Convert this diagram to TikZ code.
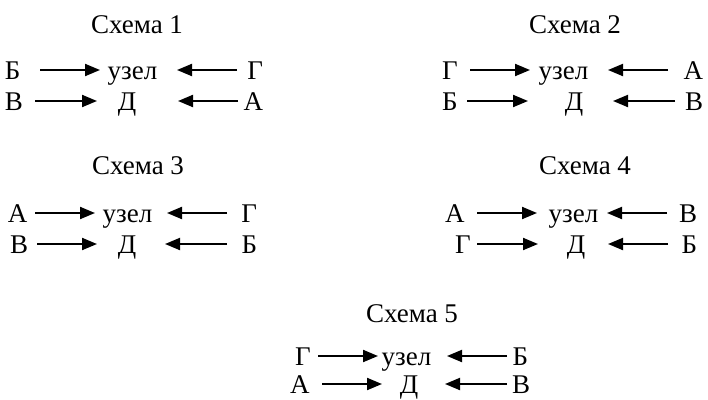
\documentclass[tikz,border=0pt]{standalone}
\usepackage{fontspec}
\setmainfont{Liberation Serif}
\usetikzlibrary{arrows.meta}
\tikzset{
  lbl/.style={inner sep=0pt, outer sep=0pt, font=\fontsize{27}{32}\selectfont},
  arr/.style={line width=2pt, -{Triangle[length=15pt,width=12pt]}}
}
\begin{document}
\begin{tikzpicture}[x=1pt,y=-1pt]
\useasboundingbox (0,0) rectangle (708,399);
% titles
\foreach \n/\x/\y/\t in {1/137/33/Схема 1, 2/575/33/Схема 2, 3/138/174/Схема 3, 4/585/174/Схема 4, 5/412/322/Схема 5}
  \node[lbl, anchor=base] (t\n) at (\x,\y) {\t};
% rows
\foreach \n/\y/\lx/\lt/\as/\ae/\mx/\mt/\bs/\be/\rx/\rt in {
  r11/79/5/Б/40/100/132.5/узел/237/177/263/Г,
  r12/110/5/В/35/97/127/Д/238/178/263/А,
  r21/79/442/Г/470/530/563.5/узел/668/608/703/А,
  r22/110/442/Б/467/528/574/Д/675/613/703/В,
  r31/222/8/А/35/95/127.5/узел/227/167/257/Г,
  r32/253/10/В/37/97/127/Д/227/165/257/Б,
  r41/222/445/А/477/537/573.5/узел/667/607/697/В,
  r42/253/455/Г/477/538/576/Д/668/608/697/Б,
  r51/365/295/Г/318/378/406.5/узел/507/447/528/Б,
  r52/393/290/А/322/382/409/Д/507/445/530/В}
{
  \node[lbl, anchor=base west] (\n-l) at (\lx,\y) {\lt};
  \node[lbl, anchor=base] (\n-m) at (\mx,\y) {\mt};
  \node[lbl, anchor=base east] (\n-r) at (\rx,\y) {\rt};
  \coordinate (\n-a1) at (\as,\y-9);
  \coordinate (\n-a2) at (\ae,\y-9);
  \coordinate (\n-b1) at (\bs,\y-9);
  \coordinate (\n-b2) at (\be,\y-9);
  \draw[arr] (\n-a1) -- (\n-a2);
  \draw[arr] (\n-b1) -- (\n-b2);
}
\end{tikzpicture}
\end{document}
